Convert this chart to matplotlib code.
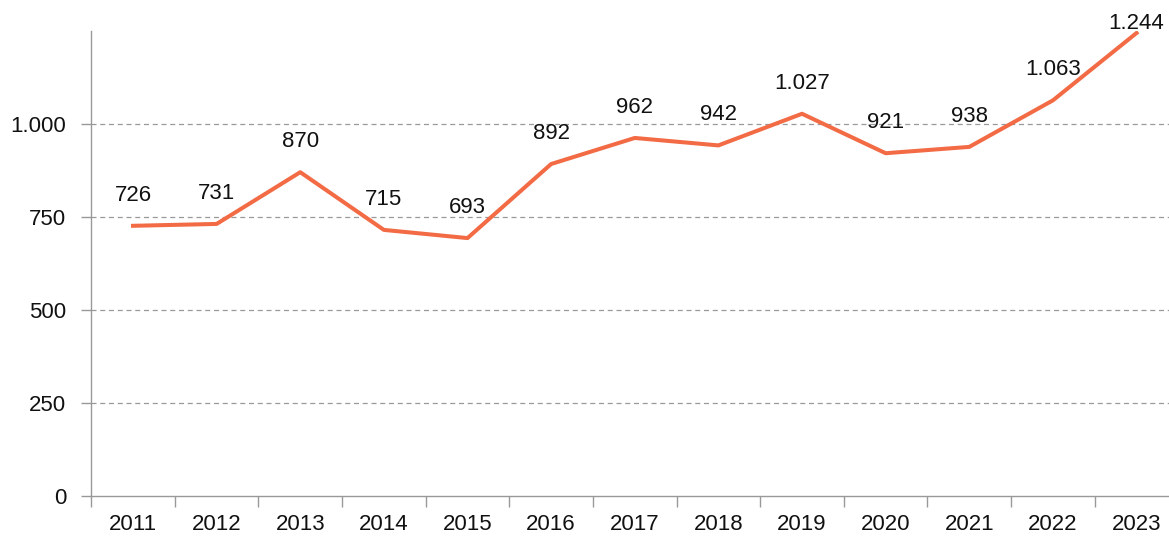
import matplotlib.pyplot as plt
import numpy as np

years = ['2011', '2012', '2013', '2014', '2015', '2016', '2017',
         '2018', '2019', '2020', '2021', '2022', '2023']
values = [726, 731, 870, 715, 693, 892, 962, 942, 1027, 921, 938, 1063, 1244]
yticks = [0, 250, 500, 750, 1000]


def fmt(v):
    return f'{v:,}'.replace(',', '.')


plt.rcParams['font.family'] = ['Liberation Sans', 'DejaVu Sans']

fig = plt.figure(figsize=(11.69, 5.36), dpi=100)
ax = fig.add_axes([0.078, 0.0746, 0.930, 0.868])

x = np.arange(len(years))
ax.plot(x, values, color='#F26B45', lw=2.9, zorder=3)

for xi, v in zip(x, values):
    # the last label sits close to the line so it stays inside the figure
    off = 7 if v == max(values) else 22
    ax.annotate(fmt(v), (xi, v), xytext=(0, off), textcoords='offset points',
                ha='center', va='center', fontsize=16, color='#111111')

ax.set_xlim(-0.5, len(years) - 0.5)
ax.set_ylim(0, 1250)
ax.set_yticks(yticks)
ax.set_yticklabels([fmt(t) for t in yticks], fontsize=16, color='#111111')
ax.set_xticks(x)
ax.set_xticklabels(years, fontsize=16, color='#111111')
ax.tick_params(axis='x', length=0, pad=13)
ax.set_xticks(np.arange(len(years) + 1) - 0.5, minor=True)
ax.tick_params(axis='x', which='minor', length=8, color='#999999', width=1)
ax.tick_params(axis='y', length=7, color='#999999', width=1, pad=11)

for t in yticks[1:]:
    ax.axhline(t, color='#999999', lw=0.9, ls=(0, (4, 3)), zorder=1)

for s in ['top', 'right']:
    ax.spines[s].set_visible(False)
for s in ['left', 'bottom']:
    ax.spines[s].set_color('#999999')
    ax.spines[s].set_linewidth(1)

fig.savefig('out.png', dpi=100)
